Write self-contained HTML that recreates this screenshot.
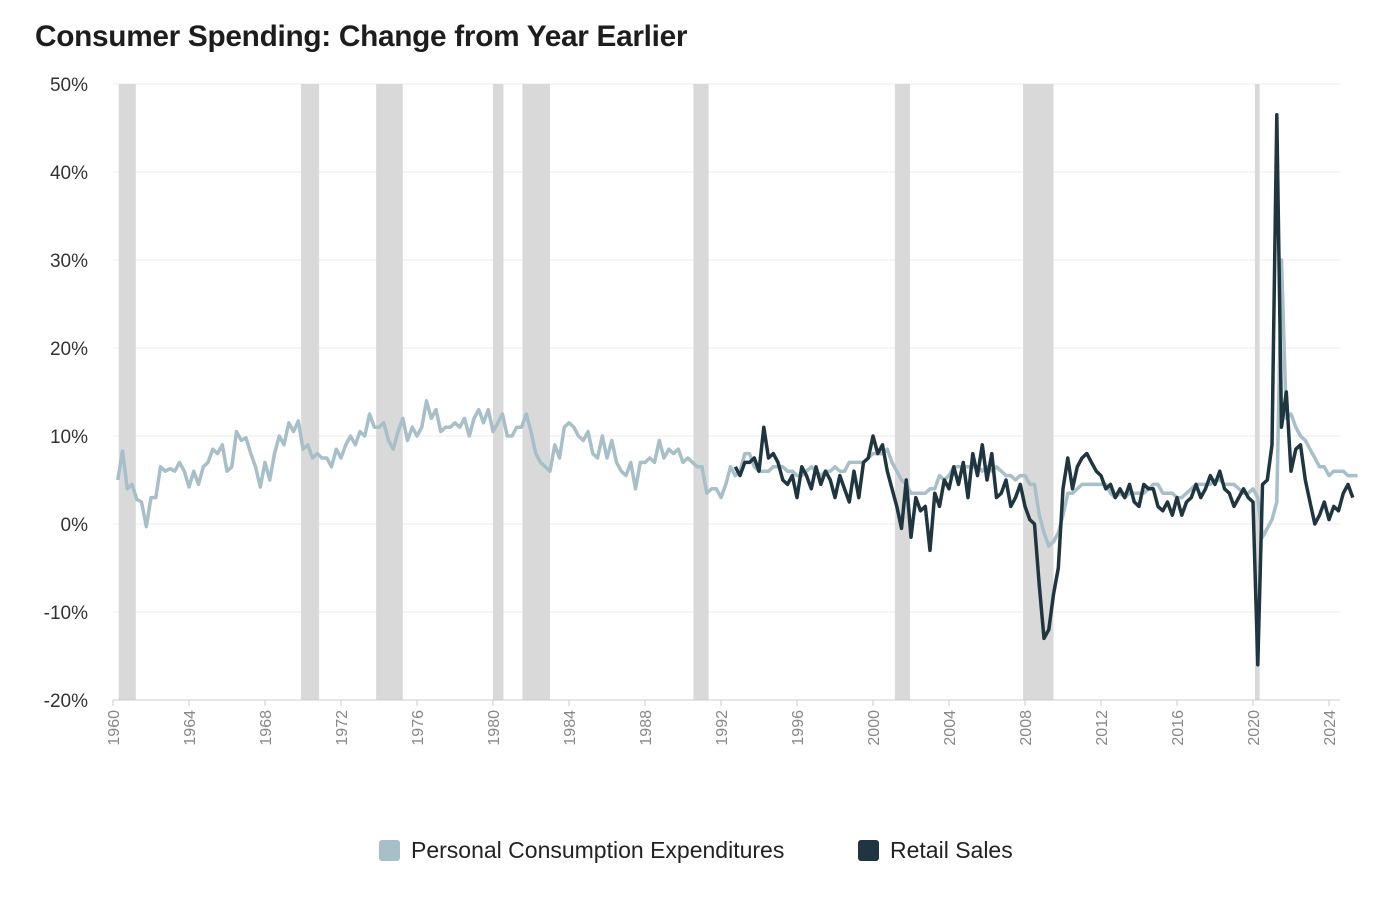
<!DOCTYPE html>
<html><head><meta charset="utf-8"><style>
body{margin:0;background:#fff;font-family:"Liberation Sans",sans-serif;}
#wrap{position:relative;width:1389px;height:902px;overflow:hidden}
h1{position:absolute;left:35px;top:20px;margin:0;font-size:29.8px;font-weight:600;color:#1d1d1d;letter-spacing:-0.3px}
.leg{position:absolute;top:837px;font-size:23px;color:#222;display:flex;align-items:center}
.sw{width:21px;height:21px;border-radius:3px;margin-right:11px}
</style></head><body>
<div id="wrap">
<h1>Consumer Spending: Change from Year Earlier</h1>
<svg id="chart" width="1389" height="902" style="position:absolute;left:0;top:0"></svg>
<div class="leg" style="left:379px"><div class="sw" style="background:#a7bfc9"></div>Personal Consumption Expenditures</div>
<div class="leg" style="left:858px"><div class="sw" style="background:#1f3640"></div>Retail Sales</div>
</div>
<script>
const yTicks=[50,40,30,20,10,0,-10,-20];
const yTickLabels=["50%","40%","30%","20%","10%","0%","-10%","-20%"];
const xTicks=[1960,1964,1968,1972,1976,1980,1984,1988,1992,1996,2000,2004,2008,2012,2016,2020,2024];
const recessions=[[1960.3,1961.2],[1969.9,1970.85],[1973.85,1975.25],[1980.0,1980.55],[1981.55,1983.0],[1990.55,1991.35],[2001.15,2001.95],[2007.9,2009.5],[2020.1,2020.35]];
const pceStart=1960.25;
const pce=[5.0,8.3,4.0,4.5, 2.8,2.5,-0.3,3.0, 3.0,6.5,6.0,6.3, 6.0,7.0,6.0,4.2, 6.0,4.5,6.5,7.0, 8.5,8.0,9.0,6.0, 6.5,10.5,9.5,9.8, 8.0,6.5,4.2,7.0, 5.0,8.0,10.0,9.0, 11.5,10.5,11.7,8.5, 9.0,7.5,8.0,7.5, 7.5,6.5,8.5,7.5, 9.0,10.0,9.0,10.5, 10.0,12.5,11.0,11.0, 11.5,9.5,8.5,10.5, 12.0,9.5,11.0,10.0, 11.0,14.0,12.0,13.0, 10.5,11.0,11.0,11.5, 11.0,12.0,10.0,12.0, 13.0,11.5,13.0,10.5, 11.5,12.5,10.0,10.0, 11.0,11.0,12.5,10.5, 8.0,7.0,6.5,6.0, 9.0,7.5,11.0,11.5, 11.0,10.0,9.5,10.5, 8.0,7.5,10.0,7.5, 9.5,7.0,6.0,5.5, 7.0,4.0,7.0,7.0, 7.5,7.0,9.5,7.5, 8.5,8.0,8.5,7.0, 7.5,7.0,6.5,6.5, 3.5,4.0,4.0,3.0, 4.5,6.5,5.5,6.0, 8.0,8.0,6.5,6.0, 6.0,6.0,6.5,6.5, 6.5,6.0,6.0,5.5, 5.5,6.0,6.5,6.0, 5.5,6.0,6.0,6.5, 6.0,6.0,7.0,7.0, 7.0,7.0,7.5,8.0, 8.0,8.0,8.5,7.0, 6.0,5.0,4.5,3.5, 3.5,3.5,3.5,4.0, 4.0,5.5,5.0,5.5, 6.5,6.5,6.5,6.5, 6.5,6.5,6.0,6.5, 6.0,6.5,6.0,5.5, 5.5,5.0,5.5,5.5, 4.5,4.5,1.0,-1.0, -2.5,-2.0,-1.0,1.0, 3.5,3.5,4.0,4.5, 4.5,4.5,4.5,4.5, 4.5,3.5,3.0,3.5, 3.0,3.5,3.5,3.5, 3.5,4.0,4.5,4.5, 3.5,3.5,3.5,3.0, 3.0,3.5,4.0,4.5, 4.5,4.5,4.5,5.0, 5.0,4.5,4.5,4.5, 4.0,3.5,3.5,4.0, 3.0,-1.5,-0.5,0.5, 2.5,30.0,12.0,12.5, 11.0,10.0,9.5,8.5, 7.5,6.5,6.5,5.5, 6.0,6.0,6.0,5.5, 5.5,5.5];
const rsStart=1992.75;
const rs=[6.5, 5.5,7.0,7.0,7.5, 6.0,11.0,7.5,8.0, 7.0,5.0,4.5,5.5, 3.0,6.5,5.5,4.0, 6.5,4.5,6.0,5.0, 3.0,5.5,4.0,2.5, 6.0,3.0,7.0,7.5, 10.0,8.0,9.0,6.0, 4.0,2.0,-0.5,5.0, -1.5,3.0,1.5,2.0, -3.0,3.5,2.0,5.0, 4.0,6.5,4.5,7.0, 3.0,8.0,5.5,9.0, 5.0,8.0,3.0,3.5, 5.0,2.0,3.0,4.5, 2.0,0.5,0.0,-7.0, -13.0,-12.0,-8.0,-5.0, 4.0,7.5,4.0,6.5, 7.5,8.0,7.0,6.0, 5.5,4.0,4.5,3.0, 4.0,3.0,4.5,2.5, 2.0,4.5,4.0,4.0, 2.0,1.5,2.5,1.0, 3.0,1.0,2.5,3.0, 4.5,3.0,4.0,5.5, 4.5,6.0,4.0,3.5, 2.0,3.0,4.0,3.0, 2.5,-16.0,4.5,5.0, 9.0,46.5,11.0,15.0, 6.0,8.5,9.0,5.0, 2.5,0.0,1.0,2.5, 0.5,2.0,1.5,3.5, 4.5,3.0];

const NS="http://www.w3.org/2000/svg";
const svg=document.getElementById('chart');
const X0=113,X1=1340;
const x=yr=>X0+(yr-1960)*19.0;
const y=v=>524-v*8.8;
function mk(tag,attrs){const e=document.createElementNS(NS,tag);for(const k in attrs)e.setAttribute(k,attrs[k]);svg.appendChild(e);return e;}
yTicks.forEach((t,i)=>{
  const g=mk('line',{x1:X0,x2:X1,y1:y(t),y2:y(t),stroke:'#ebebeb','stroke-width':1});
  
  
  const tx=mk('text',{x:88,y:y(t)+7,'text-anchor':'end','font-size':19,fill:'#333'});
  tx.textContent=yTickLabels[i];
  
  
});
recessions.forEach(r=>{
  const b=mk('rect',{x:x(r[0]),y:y(50),width:x(r[1])-x(r[0]),height:y(-20)-y(50),fill:'#d9d9d9'});
  
  
});
const ax=mk('line',{x1:X0,x2:X1,y1:y(-20),y2:y(-20),stroke:'#ccc','stroke-width':1});


xTicks.forEach(t=>{
  const tk=mk('line',{x1:x(t),x2:x(t),y1:y(-20),y2:y(-20)+6,stroke:'#ccc'});
  
  
  const tx=mk('text',{x:0,y:0,'text-anchor':'end','font-size':16,fill:'#888',transform:`translate(${x(t)+6},${y(-20)+10}) rotate(-90)`});
  tx.textContent=t;
  
  
});
function series(data,start,color,name){
  const pts=data.map((v,i)=>x(start+i*0.25).toFixed(1)+','+y(v).toFixed(1)).join(' ');
  const p=mk('polyline',{points:pts,fill:'none',stroke:color,'stroke-width':3.5,'stroke-linejoin':'round'});
  
  
}
series(pce,pceStart,'#a7bfc9','pce-line');
series(rs,rsStart,'#1f3640','retail-sales-line');
</script>
</body></html>
